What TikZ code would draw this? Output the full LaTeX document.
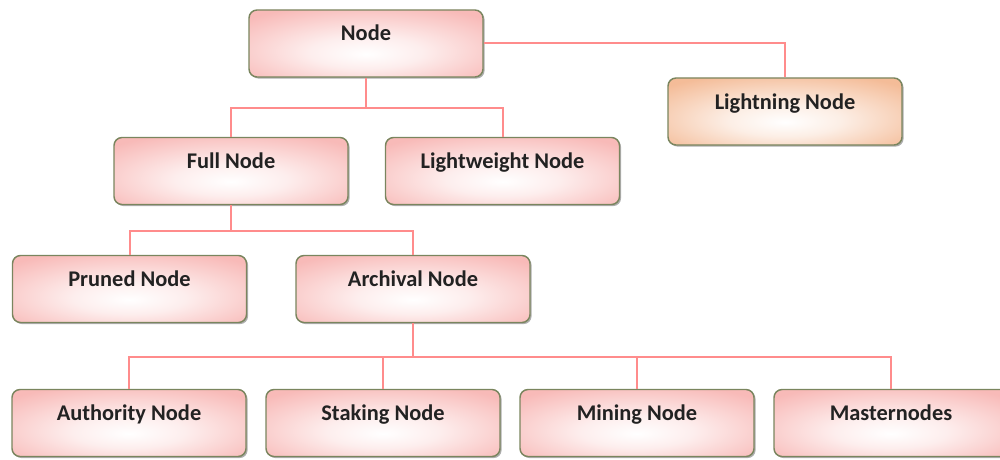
\documentclass[tikz,border=0pt]{standalone}
\usepackage{fontspec}
\setmainfont{Carlito}
\usetikzlibrary{shadows}
\definecolor{pinkc}{HTML}{F8BAB8}
\definecolor{peachc}{HTML}{F4BC98}
\definecolor{bordc}{HTML}{7A855E}
\definecolor{connc}{HTML}{FF8C8C}
\definecolor{txtc}{HTML}{222222}
\pgfdeclareradialshading{pinksh}{\pgfpoint{0bp}{-8bp}}{color(0bp)=(white); color(12bp)=(white!75!pinkc); color(34bp)=(pinkc); color(70bp)=(pinkc)}
\pgfdeclareradialshading{peachsh}{\pgfpoint{0bp}{-8bp}}{color(0bp)=(white); color(12bp)=(white!75!peachc); color(34bp)=(peachc); color(70bp)=(peachc)}
\tikzset{
  box/.style={draw=bordc, line width=1.1pt, rounded corners=6pt, shading=pinksh,
    minimum width=175.5pt, inner sep=0pt, text height=23.25pt, text depth=27pt,
    font=\bfseries\fontsize{16.8pt}{20pt}\selectfont, text=txtc,
    drop shadow={shadow xshift=1.2pt, shadow yshift=-1.2pt, opacity=0.45, fill=black!70}},
  peachbox/.style={box, shading=peachsh},
  conn/.style={draw=connc, line width=1.5pt}
}
\begin{document}
\begin{tikzpicture}[x=0.75pt,y=-0.75pt]
\useasboundingbox (0,0) rectangle (1000,460);
\clip (0,0) rectangle (1000,460);
\node[box] (node) at (366,43.5) {Node};
\node[peachbox] (light) at (785,111.5) {Lightning Node};
\node[box] (full) at (231,171) {Full Node};
\node[box] (lw) at (502.5,171) {Lightweight Node};
\node[box] (pruned) at (129.5,289) {Pruned Node};
\node[box] (arch) at (413,289) {Archival Node};
\node[box] (auth) at (129,423) {Authority Node};
\node[box] (stak) at (383,423) {Staking Node};
\node[box] (mine) at (637,423) {Mining Node};
\node[box] (mast) at (891,423) {Masternodes};
\coordinate (j1) at (366,108);
\coordinate (j2) at (231,231);
\coordinate (j3) at (413,357);
\draw[conn] (node.east) -| (light.north);
\draw[conn] (node.south) -- (j1) -| (full.north);
\draw[conn] (j1) -| (lw.north);
\draw[conn] (full.south) -- (j2) -| (pruned.north);
\draw[conn] (j2) -| (arch.north);
\draw[conn] (arch.south) -- (j3) -| (auth.north);
\draw[conn] (j3) -| (stak.north);
\draw[conn] (j3) -| (mine.north);
\draw[conn] (j3) -| (mast.north);
\end{tikzpicture}
\end{document}
